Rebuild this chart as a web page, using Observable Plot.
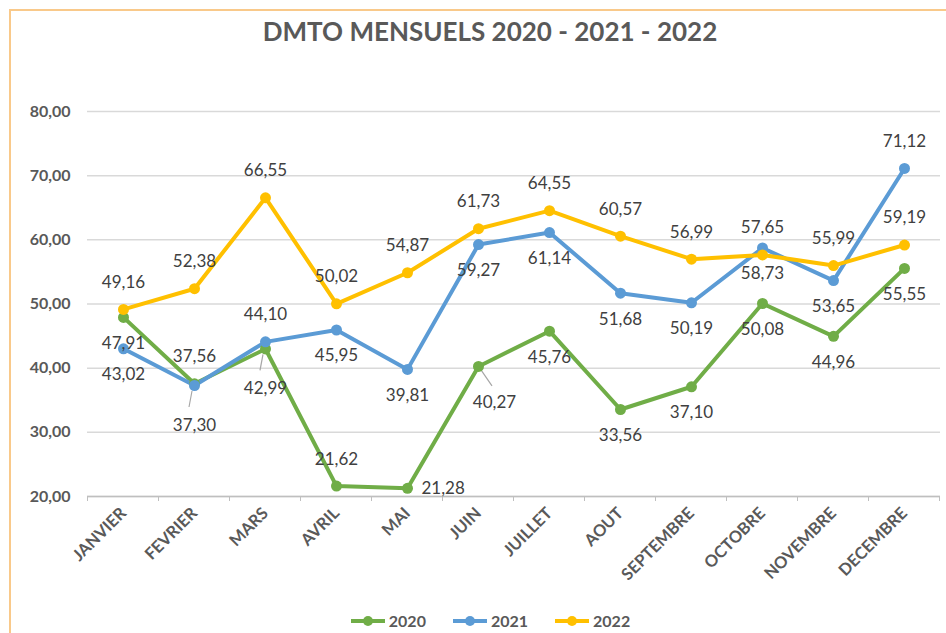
<!DOCTYPE html>
<html>
<head>
<meta charset="utf-8">
<script src="https://cdn.jsdelivr.net/npm/d3@7"></script>
<script src="https://cdn.jsdelivr.net/npm/@observablehq/plot@0.6"></script>
<style>
  html, body { margin: 0; padding: 0; background: #fff; }
  #wrap { position: relative; width: 946px; height: 633px; overflow: hidden; font-family: Lato, "Open Sans", sans-serif; }
  #frame { position: absolute; left: 9px; top: 9px; width: 960px; height: 640px; border-top: 2px solid #F9C98A; border-left: 2px solid #F9C98A; box-sizing: border-box; }
  #title { position: absolute; left: 0; width: 980px; top: 15px; text-align: center; font-size: 26px; font-weight: bold; color: #595959; }
  #chart { position: absolute; left: 0; top: 0; }
  #legend { position: absolute; left: 0; width: 980px; top: 611px; display: flex; justify-content: center; gap: 26px; font-size: 16px; font-weight: bold; color: #595959; }
  #legend .item { display: flex; align-items: center; gap: 3px; }
</style>
</head>
<body>
<div id="wrap">
  <div id="frame"></div>
  <div id="title">DMTO MENSUELS 2020 - 2021 - 2022</div>
  <div id="chart"></div>
  <div id="legend"></div>
</div>
<script>
const months = ["JANVIER","FEVRIER","MARS","AVRIL","MAI","JUIN","JUILLET","AOUT","SEPTEMBRE","OCTOBRE","NOVEMBRE","DECEMBRE"];
const years = ["2020","2021","2022"];
const v2020 = [47.91,37.56,42.99,21.62,21.28,40.27,45.76,33.56,37.10,50.08,44.96,55.55];
const v2021 = [43.02,37.30,44.10,45.95,39.81,59.27,61.14,51.68,50.19,58.73,53.65,71.12];
const v2022 = [49.16,52.38,66.55,50.02,54.87,61.73,64.55,60.57,56.99,57.65,55.99,59.19];
const yTicks = [20,30,40,50,60,70,80];
const colors = ["#70AD47","#5B9BD5","#FFC000"];
// label placement per point
const lab2020 = ["below","above","below2","above","right","belowright","below","below","below","below","below","below"];
const lab2021 = ["below","below2","above","below","below","below","below","below","below","below","below","above"];
const lab2022 = ["above","above","above","above","above","above","above","above","above","above","above","above"];

const series = [v2020, v2021, v2022];
const labs = [lab2020, lab2021, lab2022];
const data = [];
years.forEach((yr, k) => months.forEach((m, i) => data.push({month: m, year: yr, value: series[k][i], pos: labs[k][i]})));

const fmt = d => d.toFixed(2).replace(".", ",");

const boundaryTicks = (index, scales, values, dims) => {
  const x = scales.x, y = scales.y;
  const step = x(months[1]) - x(months[0]);
  const y0 = y(20);
  const g = d3.create("svg:g").attr("stroke", "#bfbfbf");
  for (let i = 0; i <= months.length; i++) {
    const xx = x(months[0]) - step / 2 + i * step;
    g.append("line").attr("x1", xx).attr("x2", xx).attr("y1", y0).attr("y2", y0 + 5);
  }
  return g.node();
};

// small leader lines for labels placed away from their points
const leaders = (index, scales) => {
  const x = scales.x, y = scales.y;
  const g = d3.create("svg:g").attr("stroke", "#a6a6a6").attr("stroke-width", 1.2);
  data.forEach(d => {
    const px = x(d.month), py = y(d.value);
    if (d.pos === "below2") g.append("line").attr("x1", px - 2).attr("y1", py + 6).attr("x2", px - 5).attr("y2", py + 22);
    if (d.pos === "belowright") g.append("line").attr("x1", px + 3).attr("y1", py + 4).attr("x2", px + 14).attr("y2", py + 20);
  });
  return g.node();
};

const labelText = (pos, opts) => Plot.text(data.filter(d => d.pos === pos), {
  x: "month", y: "value", text: d => fmt(d.value),
  fill: "#404040", fontSize: 17, fontFamily: "Lato, 'Open Sans', sans-serif", ...opts
});

const plot = Plot.plot({
  width: 946, height: 600,
  marginLeft: 87, marginRight: 6, marginTop: 111, marginBottom: 104,
  style: {fontFamily: "Lato, 'Open Sans', sans-serif", background: "transparent"},
  x: {type: "point", domain: months, padding: 0.5},
  y: {domain: [20, 80]},
  color: {domain: years, range: colors},
  marks: [
    Plot.gridY(yTicks, {stroke: "#d9d9d9", strokeOpacity: 1, strokeWidth: 1.5}),
    Plot.ruleY([20], {stroke: "#bfbfbf", strokeWidth: 1.5}),
    boundaryTicks,
    leaders,
    Plot.line(data, {x: "month", y: "value", z: "year", stroke: "year", strokeWidth: 4, strokeLinejoin: "round"}),
    Plot.dot(data, {x: "month", y: "value", fill: "year", r: 5.5}),
    labelText("above", {dy: -27}),
    labelText("below", {dy: 26}),
    labelText("below2", {dy: 40}),
    labelText("belowright", {dy: 36, dx: 16}),
    labelText("right", {dx: 14, textAnchor: "start"}),
    Plot.axisY({ticks: yTicks, tickSize: 0, tickPadding: 17, tickFormat: fmt, fontSize: 16, fontWeight: "bold", fill: "#595959", label: null}),
    Plot.axisX({tickSize: 0, tickPadding: 14, tickRotate: -45, fontSize: 16.5, fontWeight: "bold", fill: "#595959", label: null})
  ]
});
document.getElementById("chart").appendChild(plot);

const legend = document.getElementById("legend");
years.forEach((yr, k) => {
  const item = document.createElement("div");
  item.className = "item";
  item.innerHTML = `<svg width="36" height="12"><line x1="1" x2="35" y1="6" y2="6" stroke="${colors[k]}" stroke-width="4"/><circle cx="18" cy="6" r="5" fill="${colors[k]}"/></svg><span>${yr}</span>`;
  legend.appendChild(item);
});
</script>
</body>
</html>
